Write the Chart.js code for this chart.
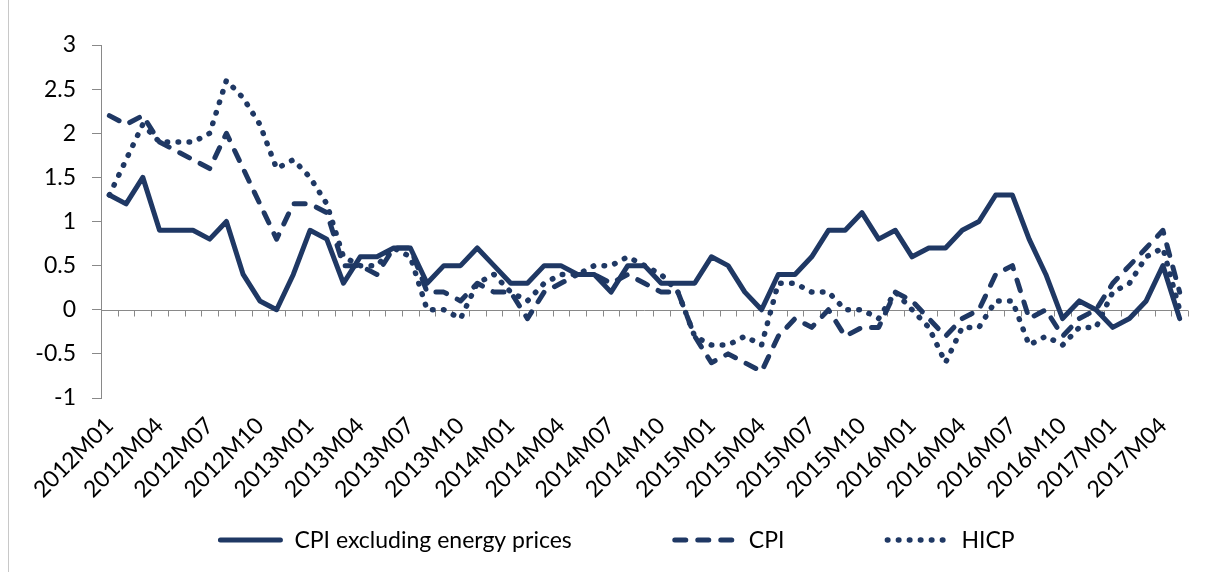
<!DOCTYPE html>
<html>
<head>
<meta charset="utf-8">
<script src="https://cdn.jsdelivr.net/npm/chart.js"></script>
<style>
  html, body { margin: 0; padding: 0; background: #fff; }
  #wrap { position: relative; width: 1223px; height: 572px; }
  #frame { position: absolute; left: 8px; top: 0; width: 0; height: 572px; border-left: 1px solid #c8c8c8; }
</style>
</head>
<body>
<div id="wrap">
  <div id="frame"></div>
  <canvas id="inflationChart" width="1223" height="572"></canvas>
</div>
<script>
// months 2012M01 .. 2017M05
const categories = [];
for (let yr = 2012; yr <= 2017; yr++) {
    for (let m = 1; m <= 12; m++) {
        if (yr === 2017 && m > 5) break;
        categories.push(yr + 'M' + String(m).padStart(2, '0'));
    }
}

const coreCpi = [1.3, 1.2, 1.5, 0.9, 0.9, 0.9, 0.8, 1.0, 0.4, 0.1, 0.0, 0.4,
    0.9, 0.8, 0.3, 0.6, 0.6, 0.7, 0.7, 0.3, 0.5, 0.5, 0.7, 0.5,
    0.3, 0.3, 0.5, 0.5, 0.4, 0.4, 0.2, 0.5, 0.5, 0.3, 0.3, 0.3,
    0.6, 0.5, 0.2, 0.0, 0.4, 0.4, 0.6, 0.9, 0.9, 1.1, 0.8, 0.9,
    0.6, 0.7, 0.7, 0.9, 1.0, 1.3, 1.3, 0.8, 0.4, -0.1, 0.1, 0.0,
    -0.2, -0.1, 0.1, 0.5, -0.1];

const cpi = [2.2, 2.1, 2.2, 1.9, 1.8, 1.7, 1.6, 2.0, 1.6, 1.2, 0.8, 1.2,
    1.2, 1.1, 0.5, 0.5, 0.4, 0.7, 0.7, 0.2, 0.2, 0.1, 0.3, 0.2,
    0.2, -0.1, 0.2, 0.3, 0.4, 0.4, 0.3, 0.4, 0.3, 0.2, 0.2, -0.3,
    -0.6, -0.5, -0.6, -0.7, -0.3, -0.1, -0.2, 0.0, -0.3, -0.2, -0.2, 0.2,
    0.1, -0.1, -0.3, -0.1, 0.0, 0.4, 0.5, -0.1, 0.0, -0.3, -0.1, 0.0,
    0.3, 0.5, 0.7, 0.9, 0.2];

const hicp = [1.3, 1.7, 2.1, 1.9, 1.9, 1.9, 2.0, 2.6, 2.4, 2.1, 1.6, 1.7,
    1.5, 1.2, 0.6, 0.5, 0.5, 0.7, 0.6, 0.0, 0.0, -0.1, 0.3, 0.4,
    0.2, 0.1, 0.3, 0.4, 0.4, 0.5, 0.5, 0.6, 0.5, 0.4, 0.2, -0.3,
    -0.4, -0.4, -0.3, -0.4, 0.3, 0.3, 0.2, 0.2, 0.0, 0.0, -0.1, 0.2,
    0.0, -0.2, -0.6, -0.2, -0.2, 0.1, 0.1, -0.4, -0.3, -0.4, -0.2, -0.2,
    0.2, 0.3, 0.6, 0.7, 0.0];

const seriesNames = ['CPI excluding energy prices', 'CPI', 'HICP'];

const navy = '#1f3864';
const axisGrey = '#898989';
const fontFamily = 'Lato, "Open Sans", sans-serif';

// horizontal axis drawn through zero, ticks between months
const zeroAxis = {
    id: 'zeroAxis',
    beforeDatasetsDraw(chart) {
        const { ctx, chartArea: a, scales: { x, y } } = chart;
        const y0 = Math.round(y.getPixelForValue(0)) + 0.5;
        const step = x.getPixelForValue(1) - x.getPixelForValue(0);
        ctx.save();
        ctx.strokeStyle = axisGrey;
        ctx.lineWidth = 1;
        ctx.beginPath();
        ctx.moveTo(a.left, y0);
        ctx.lineTo(a.right, y0);
        for (let i = 0; i <= categories.length; i++) {
            const px = Math.round(x.getPixelForValue(0) - step / 2 + i * step) + 0.5;
            ctx.moveTo(px, y0);
            ctx.lineTo(px, y0 + 6);
        }
        ctx.stroke();
        ctx.restore();
    }
};

// legend with line samples like the excel one
const lineLegend = {
    id: 'lineLegend',
    afterDraw(chart, args, opts) {
        const ctx = chart.ctx;
        ctx.save();
        ctx.font = opts.fontSize + 'px ' + fontFamily;
        const items = chart.data.datasets.map(ds => ({ ds, w: ctx.measureText(ds.label).width }));
        const total = items.reduce((s, it) => s + opts.sample + opts.gap + it.w, 0) + opts.spacing * (items.length - 1);
        let cx = opts.center - total / 2;
        ctx.textBaseline = 'middle';
        ctx.fillStyle = '#000';
        items.forEach(it => {
            ctx.strokeStyle = it.ds.borderColor;
            ctx.lineWidth = it.ds.borderWidth;
            ctx.lineCap = it.ds.borderCapStyle;
            ctx.setLineDash(it.ds.borderDash || []);
            ctx.beginPath();
            ctx.moveTo(cx + 3, opts.y);
            ctx.lineTo(cx + opts.sample - 3, opts.y);
            ctx.stroke();
            ctx.setLineDash([]);
            ctx.fillText(it.ds.label, cx + opts.sample + opts.gap, opts.y + 1);
            cx += opts.sample + opts.gap + it.w + opts.spacing;
        });
        ctx.restore();
    }
};

const ctx = document.getElementById('inflationChart').getContext('2d');
const inflationChart = new Chart(ctx, {
    type: 'line',
    data: {
        labels: categories,
        datasets: [{
            label: seriesNames[0],
            data: coreCpi,
            borderColor: navy,
            borderWidth: 5,
            borderCapStyle: 'round'
        }, {
            label: seriesNames[1],
            data: cpi,
            borderColor: navy,
            borderWidth: 5,
            borderCapStyle: 'round',
            borderDash: [11, 12]
        }, {
            label: seriesNames[2],
            data: hicp,
            borderColor: navy,
            borderWidth: 5.5,
            borderCapStyle: 'round',
            borderDash: [0.5, 10.5]
        }]
    },
    options: {
        responsive: false,
        animation: false,
        devicePixelRatio: 1,
        layout: { padding: { left: 8, right: 35, top: 45, bottom: 0 } },
        elements: {
            point: { radius: 0, hoverRadius: 0 },
            line: { tension: 0, borderJoinStyle: 'round' }
        },
        plugins: {
            legend: { display: false },
            tooltip: { enabled: false },
            lineLegend: { center: 616, y: 540, sample: 66, gap: 11, spacing: 100, fontSize: 23 }
        },
        scales: {
            x: {
                offset: true,
                grid: { display: false },
                border: { display: false },
                afterFit: (s) => { s.height = 174; },
                ticks: {
                    autoSkip: false,
                    maxRotation: 45,
                    minRotation: 45,
                    padding: 6,
                    color: '#000',
                    font: { family: fontFamily, size: 23 },
                    callback: (v, i) => (i % 3 === 0 ? categories[i] : '')
                }
            },
            y: {
                min: -1,
                max: 3,
                afterFit: (s) => { s.width = 93; },
                border: { display: true, color: axisGrey, width: 1 },
                grid: { drawOnChartArea: false, drawTicks: true, tickLength: 9, color: axisGrey },
                ticks: {
                    stepSize: 0.5,
                    padding: 16,
                    color: '#000',
                    font: { family: fontFamily, size: 23 },
                    callback: (v) => String(Math.round(v * 10) / 10)
                }
            }
        }
    },
    plugins: [zeroAxis, lineLegend]
});
</script>
</body>
</html>
